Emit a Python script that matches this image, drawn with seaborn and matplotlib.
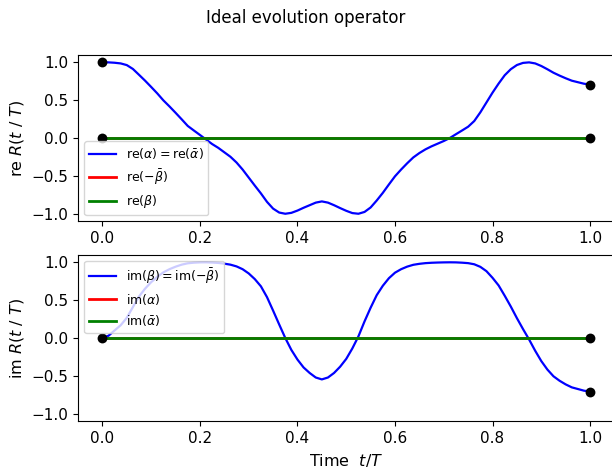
import matplotlib
matplotlib.use("Agg")
import matplotlib.pyplot as plt
import seaborn as sns
import pandas as pd

# ---- data ----
t = [0.0, 0.0125, 0.025, 0.0375, 0.05, 0.0625, 0.075, 0.0875, 0.1, 0.1125,
     0.125, 0.1375, 0.15, 0.1625, 0.175, 0.1875, 0.2, 0.2125, 0.225, 0.2375,
     0.25, 0.2625, 0.275, 0.2875, 0.3, 0.3125, 0.325, 0.3375, 0.35, 0.3625,
     0.375, 0.3875, 0.4, 0.4125, 0.425, 0.4375, 0.45, 0.4625, 0.475, 0.4875,
     0.5, 0.5125, 0.525, 0.5375, 0.55, 0.5625, 0.575, 0.5875, 0.6, 0.6125,
     0.625, 0.6375, 0.65, 0.6625, 0.675, 0.6875, 0.7, 0.7125, 0.725, 0.7375,
     0.75, 0.7625, 0.775, 0.7875, 0.8, 0.8125, 0.825, 0.8375, 0.85, 0.8625,
     0.875, 0.8875, 0.9, 0.9125, 0.925, 0.9375, 0.95, 0.9625, 0.975, 0.9875, 1.0]

re_alpha = [1.000, 1.000, 0.995, 0.986, 0.964, 0.913, 0.836, 0.758, 0.675, 0.590,
            0.498, 0.418, 0.334, 0.248, 0.160, 0.100, 0.041, -0.019, -0.079, -0.129,
            -0.188, -0.247, -0.323, -0.416, -0.522, -0.628, -0.731, -0.843, -0.932, -0.984,
            -1.000, -0.988, -0.958, -0.921, -0.887, -0.853, -0.837, -0.853, -0.887, -0.925,
            -0.961, -0.991, -1.000, -0.976, -0.917, -0.825, -0.724, -0.613, -0.505, -0.416,
            -0.333, -0.256, -0.198, -0.149, -0.109, -0.074, -0.039, 0.001, 0.051, 0.100,
            0.150, 0.225, 0.340, 0.470, 0.600, 0.720, 0.830, 0.910, 0.965, 0.993,
            1.000, 0.986, 0.952, 0.909, 0.863, 0.825, 0.790, 0.758, 0.738, 0.718, 0.707]

im_beta = [0.000, 0.030, 0.100, 0.169, 0.267, 0.408, 0.548, 0.652, 0.738, 0.808,
           0.867, 0.909, 0.942, 0.969, 0.987, 0.995, 0.999, 1.000, 0.997, 0.992,
           0.982, 0.969, 0.946, 0.909, 0.853, 0.778, 0.683, 0.540, 0.362, 0.179,
           0.000, -0.158, -0.285, -0.389, -0.462, -0.522, -0.547, -0.522, -0.462, -0.379,
           -0.276, -0.138, 0.022, 0.219, 0.400, 0.566, 0.690, 0.790, 0.863, 0.909,
           0.943, 0.967, 0.980, 0.989, 0.994, 0.997, 0.999, 1.000, 0.999, 0.995,
           0.989, 0.974, 0.940, 0.883, 0.795, 0.694, 0.558, 0.415, 0.262, 0.118,
           -0.020, -0.169, -0.305, -0.417, -0.506, -0.565, -0.613, -0.652, -0.674, -0.696, -0.707]

t_flat = [0.0, 1.0]
re_mbetabar = [0.0, 0.0]
re_beta = [0.0, 0.0]
im_alpha = [0.0, 0.0]
im_alphabar = [0.0, 0.0]

top_dot_t = [0.0, 0.0, 1.0, 1.0]
top_dot_v = [1.0, 0.0, 0.707, 0.0]
bot_dot_t = [0.0, 1.0, 1.0]
bot_dot_v = [0.0, 0.0, -0.707]

top_labels = [r're$(\alpha) = \mathrm{re}(\bar{\alpha})$', r're$(-\bar{\beta})$', r're$(\beta)$']
bot_labels = [r'im$(\beta) = \mathrm{im}(-\bar{\beta})$', r'im$(\alpha)$', r'im$(\bar{\alpha})$']

x_ticks = [0.0, 0.2, 0.4, 0.6, 0.8, 1.0]
y_ticks = [-1.0, -0.5, 0.0, 0.5, 1.0]

# ---- figure ----
fig = plt.figure(figsize=(6.12, 4.72), dpi=100)
ax1 = fig.add_axes([0.1275, 0.5311, 0.8765, 0.3528])
ax2 = fig.add_axes([0.1275, 0.1075, 0.8765, 0.3528])

df_curve = pd.DataFrame({"t": t, "re": re_alpha, "im": im_beta})
df_flat = pd.DataFrame({"t": t_flat, "a": re_mbetabar, "b": re_beta,
                        "c": im_alpha, "d": im_alphabar})

sns.lineplot(data=df_curve, x="t", y="re", ax=ax1, color="blue", lw=1.6, label=top_labels[0])
sns.lineplot(data=df_flat, x="t", y="a", ax=ax1, color="red", lw=2.0, label=top_labels[1])
sns.lineplot(data=df_flat, x="t", y="b", ax=ax1, color="green", lw=2.0, label=top_labels[2])
sns.scatterplot(x=top_dot_t, y=top_dot_v, ax=ax1, color="black", s=50, zorder=5,
                linewidth=0, legend=False)

sns.lineplot(data=df_curve, x="t", y="im", ax=ax2, color="blue", lw=1.6, label=bot_labels[0])
sns.lineplot(data=df_flat, x="t", y="c", ax=ax2, color="red", lw=2.0, label=bot_labels[1])
sns.lineplot(data=df_flat, x="t", y="d", ax=ax2, color="green", lw=2.0, label=bot_labels[2])
sns.scatterplot(x=bot_dot_t, y=bot_dot_v, ax=ax2, color="black", s=50, zorder=5,
                linewidth=0, legend=False)

for ax in (ax1, ax2):
    ax.set_xlim(-0.05, 1.05)
    ax.set_ylim(-1.1, 1.1)
    ax.set_xticks(x_ticks)
    ax.set_yticks(y_ticks)
    ax.tick_params(labelsize=11)

ax1.set_xlabel("")
ax1.set_ylabel(r're $R(t\ /\ T)$', fontsize=11.5)
ax2.set_ylabel(r'im $R(t\ /\ T)$', fontsize=11.5)
ax2.set_xlabel(r'Time  $t/T$', fontsize=11.5)

ax1.legend(loc="lower left", fontsize=9, handlelength=2.1)
ax2.legend(loc="upper left", fontsize=9, handlelength=2.1)

fig.suptitle("Ideal evolution operator", fontsize=12)
fig.savefig("out.png", dpi=100)
